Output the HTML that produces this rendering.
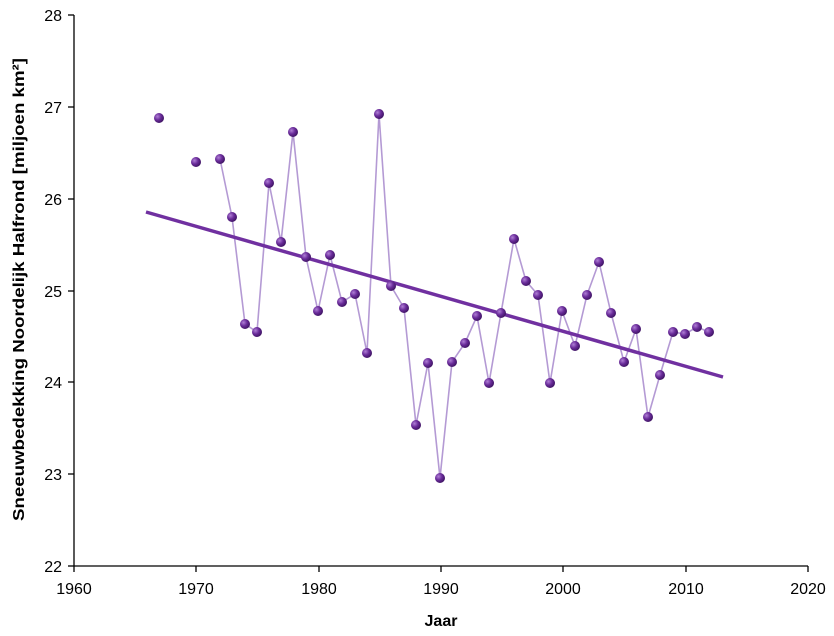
<!DOCTYPE html>
<html><head><meta charset="utf-8"><style>body{margin:0;background:#fff}svg{display:block}text{font-family:"Liberation Sans",Arial,sans-serif;font-size:16px;fill:#000}</style></head><body>
<svg width="834" height="636" viewBox="0 0 834 636">
<defs><radialGradient id="g" cx="35%" cy="35%" r="70%"><stop offset="0" stop-color="#b07fd6"/><stop offset="0.5" stop-color="#6a2c9a"/><stop offset="1" stop-color="#3c1260"/></radialGradient></defs>
<g stroke="#000" stroke-width="1.3" fill="none">
<line x1="74" y1="15" x2="74" y2="566"/><line x1="74" y1="566" x2="808" y2="566"/>
<line x1="68" y1="15" x2="74" y2="15"/><line x1="68" y1="107" x2="74" y2="107"/><line x1="68" y1="199" x2="74" y2="199"/><line x1="68" y1="291" x2="74" y2="291"/><line x1="68" y1="382" x2="74" y2="382"/><line x1="68" y1="474" x2="74" y2="474"/><line x1="68" y1="566" x2="74" y2="566"/>
<line x1="74" y1="566" x2="74" y2="572"/><line x1="196" y1="566" x2="196" y2="572"/><line x1="319" y1="566" x2="319" y2="572"/><line x1="441" y1="566" x2="441" y2="572"/><line x1="563" y1="566" x2="563" y2="572"/><line x1="686" y1="566" x2="686" y2="572"/><line x1="808" y1="566" x2="808" y2="572"/>
</g>
<g text-anchor="end"><text x="62" y="21">28</text><text x="62" y="113">27</text><text x="62" y="205">26</text><text x="62" y="297">25</text><text x="62" y="388">24</text><text x="62" y="480">23</text><text x="62" y="572">22</text></g>
<g text-anchor="middle"><text x="74" y="594">1960</text><text x="196" y="594">1970</text><text x="319" y="594">1980</text><text x="441" y="594">1990</text><text x="563" y="594">2000</text><text x="686" y="594">2010</text><text x="808" y="594">2020</text>
<text x="441" y="626" font-weight="bold">Jaar</text></g>
<text transform="translate(24,521) rotate(-90)" font-weight="bold" font-size="17" textLength="463" lengthAdjust="spacingAndGlyphs">Sneeuwbedekking Noordelijk Halfrond  [miljoen km²]</text>
<polyline fill="none" stroke="#b49ad4" stroke-width="1.6" points="220,159 232,217 245,324 257,332 269,183 281,242 293,132 306,257 318,311 330,255 342,302 355,294 367,353 379,114 391,286 404,308 416,425 428,363 440,478 452,362 465,343 477,316 489,383 501,313 514,239 526,281 538,295 550,383 562,311 575,346 587,295 599,262 611,313 624,362 636,329 648,417 660,375 673,332 685,334 697,327 709,332"/>
<line x1="146" y1="212" x2="723" y2="377" stroke="#7030a0" stroke-width="3.5"/>
<g fill="url(#g)">
<circle cx="159" cy="118" r="5"/><circle cx="196" cy="162" r="5"/><circle cx="220" cy="159" r="5"/><circle cx="232" cy="217" r="5"/><circle cx="245" cy="324" r="5"/><circle cx="257" cy="332" r="5"/><circle cx="269" cy="183" r="5"/><circle cx="281" cy="242" r="5"/><circle cx="293" cy="132" r="5"/><circle cx="306" cy="257" r="5"/><circle cx="318" cy="311" r="5"/><circle cx="330" cy="255" r="5"/><circle cx="342" cy="302" r="5"/><circle cx="355" cy="294" r="5"/><circle cx="367" cy="353" r="5"/><circle cx="379" cy="114" r="5"/><circle cx="391" cy="286" r="5"/><circle cx="404" cy="308" r="5"/><circle cx="416" cy="425" r="5"/><circle cx="428" cy="363" r="5"/><circle cx="440" cy="478" r="5"/><circle cx="452" cy="362" r="5"/><circle cx="465" cy="343" r="5"/><circle cx="477" cy="316" r="5"/><circle cx="489" cy="383" r="5"/><circle cx="501" cy="313" r="5"/><circle cx="514" cy="239" r="5"/><circle cx="526" cy="281" r="5"/><circle cx="538" cy="295" r="5"/><circle cx="550" cy="383" r="5"/><circle cx="562" cy="311" r="5"/><circle cx="575" cy="346" r="5"/><circle cx="587" cy="295" r="5"/><circle cx="599" cy="262" r="5"/><circle cx="611" cy="313" r="5"/><circle cx="624" cy="362" r="5"/><circle cx="636" cy="329" r="5"/><circle cx="648" cy="417" r="5"/><circle cx="660" cy="375" r="5"/><circle cx="673" cy="332" r="5"/><circle cx="685" cy="334" r="5"/><circle cx="697" cy="327" r="5"/><circle cx="709" cy="332" r="5"/>
</g>
</svg>
</body></html>
